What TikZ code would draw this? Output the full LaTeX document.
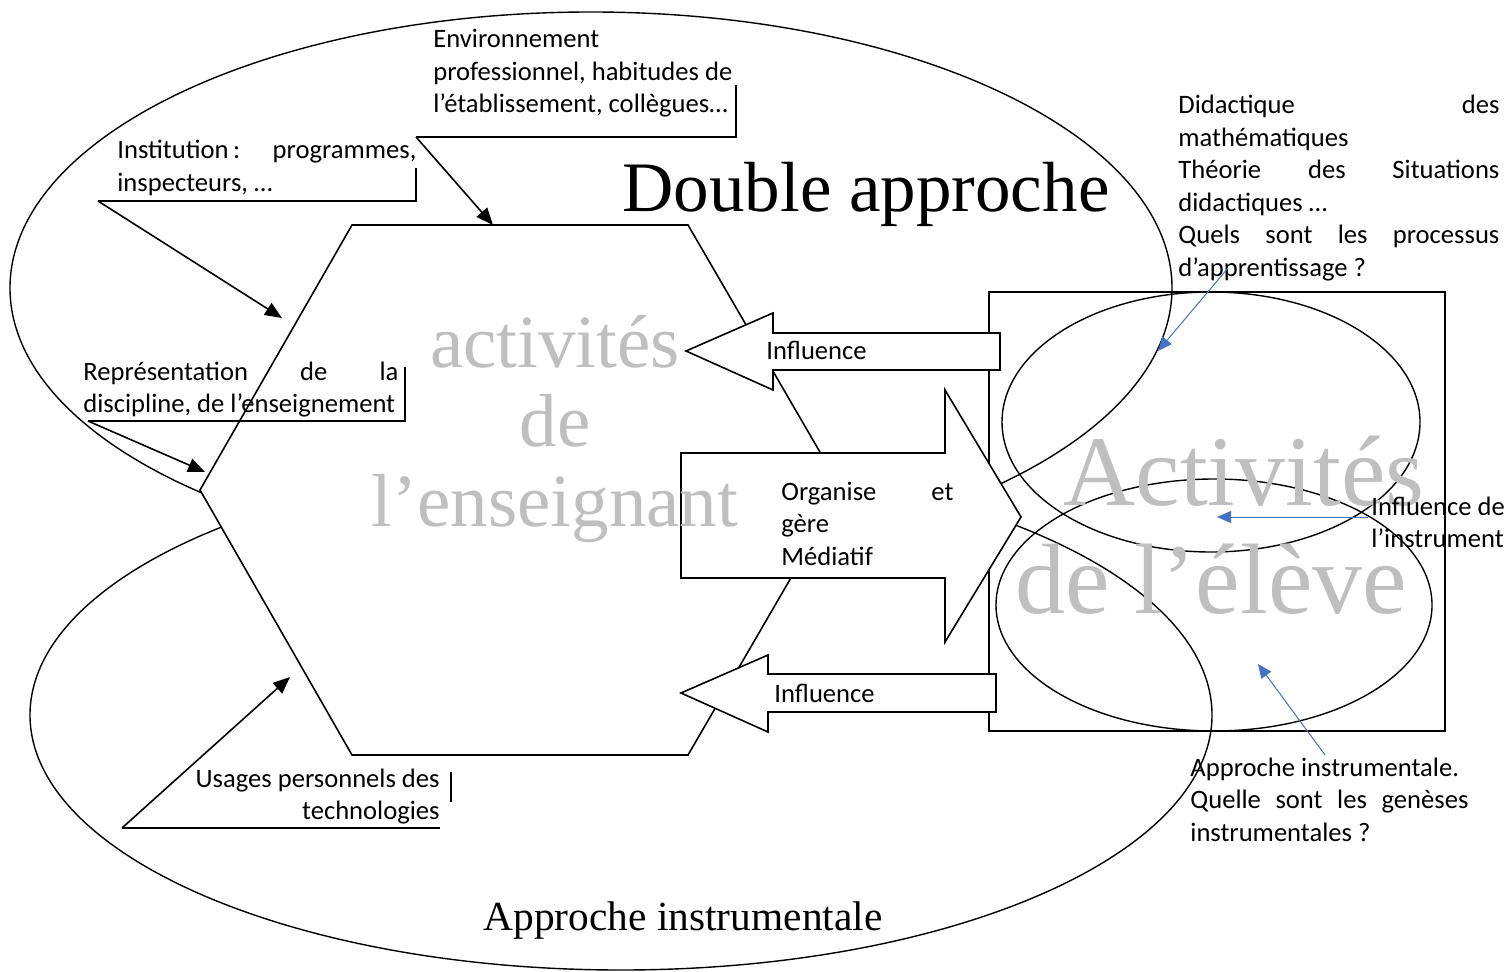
\documentclass[tikz,border=0pt]{standalone}
\usepackage{fontspec}
\setmainfont{Carlito}
\newfontfamily\serf{Liberation Serif}
\usetikzlibrary{arrows.meta}
\definecolor{txtgray}{RGB}{191,191,191}
\definecolor{officeblue}{RGB}{68,114,196}
\newcommand{\lblfont}{\fontsize{13.3}{16.25}\selectfont}
\begin{document}
\begin{tikzpicture}[x=0.5pt,y=-0.5pt,
  ell/.style={line width=0.7pt},
  whiteshape/.style={draw=black, fill=white, line width=0.8pt, line join=miter},
  calloutline/.style={line width=0.8pt},
  pointer/.style={line width=0.8pt, -{Triangle[length=8.5pt,width=7pt]}},
  bluepointer/.style={draw=officeblue, line width=0.5pt, -{Triangle[length=7pt,width=6pt]}},
  lbl/.style={inner sep=0pt, anchor=base west, font=\lblfont},
  bigtxt/.style={inner sep=0pt, text=txtgray},
]
\useasboundingbox (0,0) rectangle (1507,972);

% big approach ellipses
\draw[ell] (591,288) ellipse [x radius=290.5pt, y radius=138pt];
\draw[ell] (621,715) ellipse [x radius=295.5pt, y radius=127.5pt];

% teacher hexagon
\draw[whiteshape] (352,225) -- (688,225) -- (842,490) -- (688,755) -- (352,755) -- (200,490) -- cycle;

% student frame and ellipses
\draw[line width=0.8pt] (989,292) rectangle (1445,731);
\draw[ell] (1211,422) ellipse [x radius=104.5pt, y radius=65pt];
\draw[ell] (1214,605) ellipse [x radius=109pt, y radius=63pt];

% block arrows
\draw[whiteshape] (681,453) -- (945,453) -- (945,390) -- (1021,517) -- (945,642) -- (945,578) -- (681,578) -- cycle;
\draw[whiteshape] (1000,333) -- (773,333) -- (773,313) -- (686,351) -- (773,390) -- (773,370) -- (1000,370) -- cycle;
\draw[whiteshape] (996,674) -- (768,674) -- (768,655) -- (681,693) -- (768,732) -- (768,712) -- (996,712) -- cycle;

% gray titles
\node[bigtxt, anchor=base, font=\serf\fontsize{37.5}{39.5}\selectfont] (ens) at (555,368)
  {\vtop{\hbox to 0pt{\hss activités\hss}\hbox to 0pt{\hss de\hss}\hbox to 0pt{\hss l’enseignant\hss}}};
\node[bigtxt, anchor=base west, font=\serf\fontsize{50}{54}\selectfont] (elv) at (1015,505)
  {\vtop{\hbox{\kern24pt Activités}\hbox{de l’élève}}};

% black titles
\node[inner sep=0pt, anchor=base, font=\serf\fontsize{35.5}{40}\selectfont] (dbl) at (866,212) {Double approche};
\node[inner sep=0pt, anchor=base, font=\serf\fontsize{20.7}{24}\selectfont] (ainst) at (683,930) {Approche instrumentale};

% labels in arrows
\node[lbl] (inf1) at (766,360) {Influence};
\node[lbl] (inf2) at (774,702) {Influence};
\node[lbl] (org) at (781,500) {\vtop{\hbox to 86pt{Organise\hfill et}\hbox{gère}\hbox{Médiatif}}};

% side labels
\node[lbl] (env) at (433,48) {\vtop{\hbox{Environnement}\hbox{professionnel, habitudes de}\hbox{l’établissement, collègues…}}};
\node[lbl] (inst) at (117,159) {\vtop{\hbox to 149.5pt{Institution\,:\hfill programmes,}\hbox{inspecteurs, …}}};
\node[lbl] (rep) at (83,380) {\vtop{\hbox to 157.5pt{Représentation\hfill de\hfill la}\hbox{discipline, de l’enseignement}}};
\node[inner sep=0pt, anchor=base east, font=\lblfont] (usg) at (440,787)
  {\vtop{\hbox to 122.5pt{\hfill Usages personnels des}\hbox to 122.5pt{\hfill technologies}}};
\node[lbl] (did) at (1178,114) {\vtop{%
  \hbox to 160.5pt{Didactique\hfill des}%
  \hbox{mathématiques}%
  \hbox to 160.5pt{Théorie\hfill des\hfill Situations}%
  \hbox{didactiques …}%
  \hbox to 160.5pt{Quels\hfill sont\hfill les\hfill processus}%
  \hbox{d’apprentissage ?}}};
\node[lbl] (infi) at (1371,515) {\vtop{\hbox{Influence de}\hbox{l’instrument}}};
\node[lbl] (apin) at (1190,776) {\vtop{%
  \hbox{Approche instrumentale.}%
  \hbox to 139pt{Quelle\hfill sont\hfill les\hfill genèses}%
  \hbox{instrumentales ?}}};

% callout frames
\coordinate (envT) at (736,85);  \coordinate (envR) at (736,137);  \coordinate (envL) at (416,137);  \coordinate (envA) at (493,225);
\coordinate (instT) at (416,168); \coordinate (instR) at (416,201); \coordinate (instL) at (98,201); \coordinate (instA) at (282,318);
\coordinate (repT) at (405,367); \coordinate (repR) at (405,421); \coordinate (repL) at (88,421); \coordinate (repA) at (205,472);
\coordinate (usgT) at (451,772); \coordinate (usgB) at (451,802); \coordinate (usgR) at (440,828); \coordinate (usgL) at (122,828); \coordinate (usgA) at (290,677);

\draw[calloutline] (envT) -- (envR) -- (envL);
\draw[pointer] (envL) -- (envA);
\draw[calloutline] (instT) -- (instR) -- (instL);
\draw[pointer] (instL) -- (instA);
\draw[calloutline] (repT) -- (repR) -- (repL);
\draw[pointer] (repL) -- (repA);
\draw[calloutline] (usgT) -- (usgB);
\draw[calloutline] (usgR) -- (usgL);
\draw[pointer] (usgL) -- (usgA);

% blue pointers
\coordinate (b1s) at (1228,268); \coordinate (b1e) at (1158,351);
\coordinate (b2s) at (1368,517); \coordinate (b2e) at (1217,517);
\coordinate (b3s) at (1325,755); \coordinate (b3e) at (1258,664);
\draw[bluepointer] (b1s) -- (b1e);
\draw[bluepointer] (b2s) -- (b2e);
\draw[bluepointer] (b3s) -- (b3e);
\end{tikzpicture}
\end{document}
